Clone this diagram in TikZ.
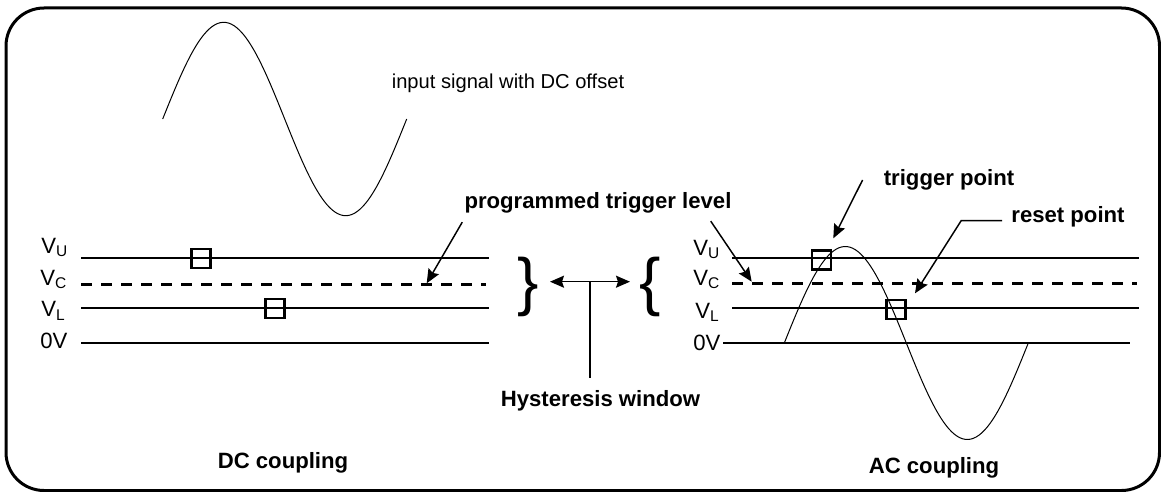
\documentclass[tikz,border=0pt]{standalone}
\usepackage{fontspec}
\setmainfont{Liberation Sans}
\usepackage{tikz}
\usetikzlibrary{arrows.meta, calc}

\begin{document}
\begin{tikzpicture}[x=0.75pt, y=-0.75pt,
  lbl/.style={font=\fontsize{16.6}{20}\selectfont, inner sep=0},
  ttl/.style={font=\fontsize{16.6}{20}\selectfont\bfseries, inner sep=0},
  note/.style={font=\fontsize{15.1}{18}\selectfont, inner sep=0},
  brc/.style={font=\fontsize{48}{48}\selectfont, inner sep=0},
  markbox/.style={draw, line width=1.7pt, minimum size=14.3pt, inner sep=0},
  lvl/.style={line width=1.3pt},
  ctr/.style={line width=2.25pt, dash pattern=on 8pt off 7pt},
  sig/.style={line width=0.75pt},
  arr/.style={line width=1.1pt, -{Stealth[length=10.5pt, width=9pt, inset=1.5pt]}},
  dblarr/.style={line width=1.1pt, {Stealth[length=10.5pt, width=9pt, inset=1.5pt]}-{Stealth[length=10.5pt, width=9pt, inset=1.5pt]}},
  outline/.style={line width=2.25pt, rounded corners=28.5pt},
]
  \useasboundingbox (0,0) rectangle (1161,492);
  \draw[outline] (6,8) rectangle (1159.5,490.5);

  % DC coupling
  \draw[sig] plot[domain=0:360, samples=90, smooth] ({162.7+\x/360*244}, {119-96.7*sin(\x)});
  \node[note] (insig) at (508,83) {input signal with DC offset};
  \draw[lvl] (81,258) -- (489,258);
  \draw[ctr] (81,284) -- (486,284);
  \draw[lvl] (81,308) -- (489,308);
  \draw[lvl] (81,343) -- (489,343);
  \node[lbl, anchor=base west] (dcVU) at (41,253.3) {V\textsubscript{U}};
  \node[lbl, anchor=base west] (dcVC) at (40,285) {V\textsubscript{C}};
  \node[lbl, anchor=base west] (dcVL) at (41,316.7) {V\textsubscript{L}};
  \node[lbl, anchor=base west] (dc0V) at (40,348.3) {0V};
  \node[markbox] (dcU) at (201,258.7) {};
  \node[markbox] (dcL) at (275,308.3) {};
  \node[ttl] (dccoup) at (283,463) {DC coupling};

  % hysteresis window
  \node[ttl] (ptl) at (598,202.5) {programmed trigger level};
  \coordinate (dcTip) at (426.7,283.3);
  \coordinate (acTip) at (751.7,281.7);
  \draw[arr] ([shift={(-2,9)}]ptl.south west) -- (dcTip);
  \draw[arr] ([shift={(-21,8)}]ptl.south east) -- (acTip);
  \node[brc] (rbrace) at (528.5,286.7) {\}};
  \node[brc] (lbrace) at (650,286.7) {\{};
  \coordinate (hyst) at (590,281.7);
  \coordinate (hystEnd) at (590,378.3);
  \draw[dblarr] (550,281.7) -- (630,281.7);
  \draw[lvl] (hyst) -- (hystEnd);
  \node[ttl] (hwin) at (600.5,401) {Hysteresis window};

  % AC coupling
  \draw[lvl] (732,258) -- (1139,258);
  \draw[ctr] (732,283.3) -- (1137,283.3);
  \draw[lvl] (732,308) -- (1139,308);
  \draw[lvl] (723,343) -- (1130,343);
  \draw[sig] plot[domain=0:360, samples=90, smooth] ({784.3+\x/360*244}, {343-96.5*sin(\x)});
  \node[lbl, anchor=base west] (acVU) at (693,255) {V\textsubscript{U}};
  \node[lbl, anchor=base west] (acVC) at (693,285) {V\textsubscript{C}};
  \node[lbl, anchor=base west] (acVL) at (695,318.3) {V\textsubscript{L}};
  \node[lbl, anchor=base west] (ac0V) at (693,350) {0V};
  \node[markbox] (acTrig) at (821.3,260) {};
  \node[markbox] (acReset) at (896,309.5) {};
  \node[ttl] (trg) at (949,180) {trigger point};
  \node[ttl] (rst) at (1068,216.7) {reset point};
  \coordinate (trgTip) at (833.3,238.3);
  \coordinate (rstTip) at (915,293.3);
  \draw[arr] ([shift={(-21,0)}]trg.west) -- (trgTip);
  \draw[arr] ([shift={(-9,4)}]rst.west) -- ++(-41,0) -- (rstTip);
  \node[ttl] (accoup) at (934,468) {AC coupling};
\end{tikzpicture}
\end{document}
